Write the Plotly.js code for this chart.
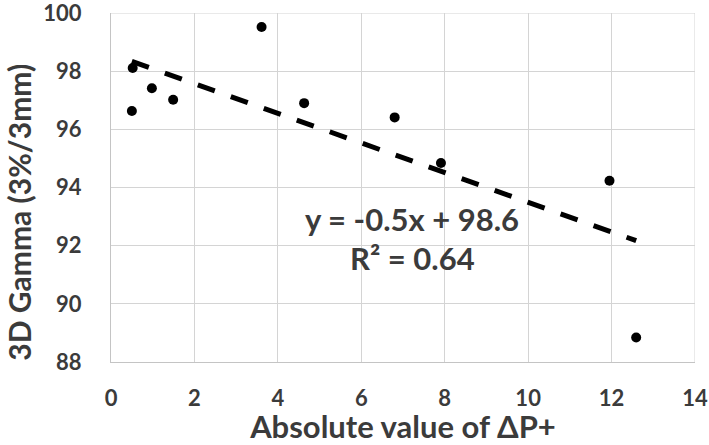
<!DOCTYPE html>
<html>
<head>
<meta charset="utf-8">
<script src="https://cdn.plot.ly/plotly-3.0.1.min.js"></script>
<style>html,body{margin:0;padding:0;background:#fff;}#chart{width:709px;height:445px;}</style>
</head>
<body>
<div id="chart"></div>
<script>
// Data
const deltaP = [0.52, 0.50, 0.98, 1.49, 3.61, 4.63, 6.80, 7.91, 11.95, 12.59];
const gamma  = [98.11, 96.63, 97.41, 97.02, 99.52, 96.90, 96.41, 94.84, 94.23, 88.84];
const xTicks = [0, 2, 4, 6, 8, 10, 12, 14];
const yTicks = [88, 90, 92, 94, 96, 98, 100];
const eqText = "y = -0.5x + 98.6";
const r2Text = "R² = 0.64";

// Least-squares trendline from the data
const n = deltaP.length;
const mx = deltaP.reduce((a, b) => a + b, 0) / n;
const my = gamma.reduce((a, b) => a + b, 0) / n;
let sxy = 0, sxx = 0;
for (let i = 0; i < n; i++) { sxy += (deltaP[i] - mx) * (gamma[i] - my); sxx += (deltaP[i] - mx) ** 2; }
const slope = sxy / sxx, icpt = my - slope * mx;
const tx = [Math.min(...deltaP), Math.max(...deltaP)];
const ty = tx.map(x => icpt + slope * x);

const txt = '#3b3b3b';
const font = 'Lato, "Open Sans", sans-serif';

const traces = [
  {x: tx, y: ty, type: 'scatter', mode: 'lines', line: {color: '#000', width: 5, dash: '18px,17px'}, hoverinfo: 'skip'},
  {x: deltaP, y: gamma, type: 'scatter', mode: 'markers', marker: {color: '#000', size: 10}}
];

const layout = {
  width: 709, height: 445,
  margin: {l: 111, r: 14, t: 13, b: 83},
  paper_bgcolor: '#fff', plot_bgcolor: '#fff',
  showlegend: false,
  font: {family: font, color: txt},
  xaxis: {
    range: [0, 14], tickvals: xTicks, ticktext: xTicks.map(String),
    showgrid: true, gridcolor: '#d4d4d4', gridwidth: 1,
    showline: true, linecolor: '#c4c4c4', linewidth: 1, mirror: false,
    zeroline: false, ticks: '', ticklabelstandoff: 17, ticklabeloverflow: 'allow',
    tickfont: {family: font, size: 22, color: txt, weight: 'bold'},
    title: {text: 'Absolute value of ΔP+', font: {family: font, size: 31, color: txt, weight: 'bold'}, standoff: 2}
  },
  yaxis: {
    range: [88, 100], tickvals: yTicks, ticktext: yTicks.map(String),
    showgrid: true, gridcolor: '#d4d4d4', gridwidth: 1,
    showline: true, linecolor: '#c4c4c4', linewidth: 1,
    zeroline: false, ticks: '', ticklabelstandoff: 24, ticklabeloverflow: 'allow',
    tickfont: {family: font, size: 22, color: txt, weight: 'bold'}
  },
  shapes: [
    {type: 'line', xref: 'x', yref: 'paper', x0: 14, x1: 14, y0: 0, y1: 1, line: {color: '#d4d4d4', width: 1}, layer: 'below'},
    {type: 'line', xref: 'paper', yref: 'y', x0: 0, x1: 1, y0: 100, y1: 100, line: {color: '#d4d4d4', width: 1}, layer: 'below'}
  ],
  annotations: [
    {text: '3D Gamma (3%/3mm)', textangle: -90, xref: 'paper', yref: 'paper', x: -0.1575, y: 0.428, xanchor: 'center', yanchor: 'middle', showarrow: false, font: {family: font, size: 30, color: txt, weight: 'bold'}},
    {text: eqText, xref: 'paper', yref: 'paper', x: 0.516, y: 0.41, xanchor: 'center', yanchor: 'middle', showarrow: false, font: {family: font, size: 31, color: txt, weight: 'bold'}},
    {text: r2Text, xref: 'paper', yref: 'paper', x: 0.516, y: 0.299, xanchor: 'center', yanchor: 'middle', showarrow: false, font: {family: font, size: 31, color: txt, weight: 'bold'}}
  ]
};

Plotly.newPlot('chart', traces, layout, {displayModeBar: false, staticPlot: true});
</script>
</body>
</html>
